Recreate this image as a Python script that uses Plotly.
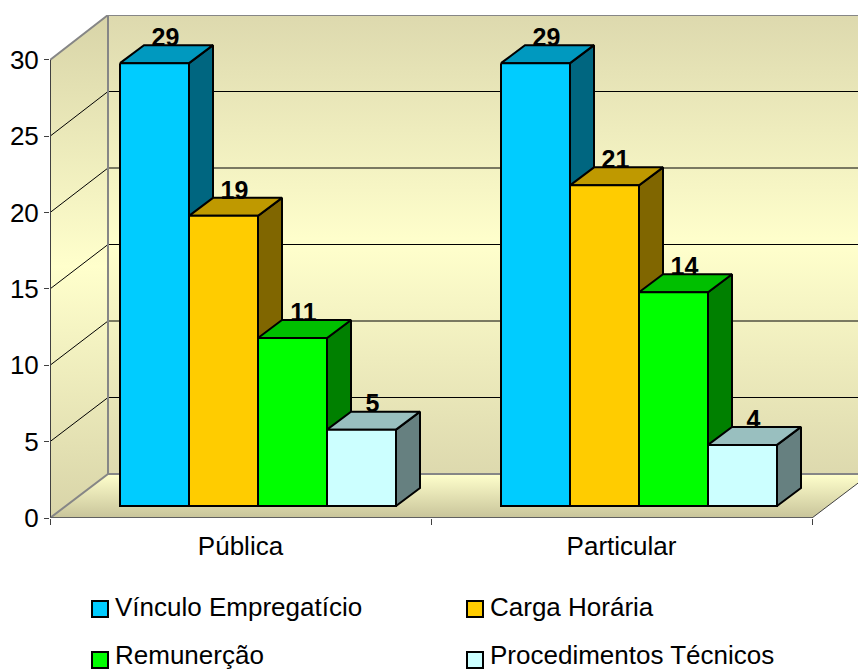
import plotly.graph_objects as go

categories = ["Pública", "Particular"]
series_names = ["Vínculo Empregatício", "Carga Horária", "Remunerção", "Procedimentos Técnicos"]
vinculo = [29, 29]
carga = [19, 21]
remuneracao = [11, 14]
procedimentos = [5, 4]
y_ticks = [0, 5, 10, 15, 20, 25, 30]

front_colors = ["#00CCFF", "#FFCC00", "#00FF00", "#CCFFFF"]
top_colors = ["#0099BF", "#BF9900", "#00BF00", "#99BFBF"]
side_colors = ["#006680", "#806600", "#008000", "#668080"]

W, H = 858, 671
L, T, B = 50, 15, 518
PX_PER_VAL = 15.27
PX_PER_CAT = 381.0
CAT0_PX = 240.5


def X(px):
    return (px - CAT0_PX) / PX_PER_CAT


def Y(py):
    return (B - py) / PX_PER_VAL


DEPTH_X, DEPTH_Y = 58, 44
BACK_X, BACK_B, BACK_T = L + DEPTH_X, B - DEPTH_Y, T
TOP_FRONT = B - 30 * PX_PER_VAL

fig = go.Figure()
NOHOVER = dict(hoverinfo="skip", showlegend=False)


def poly(xs, ys, **kw):
    fig.add_trace(go.Scatter(x=[X(v) for v in xs], y=[Y(v) for v in ys], mode="lines", **NOHOVER, **kw))


WALL = dict(type="vertical", colorscale=[[0, "#DDD9AE"], [0.5, "#FFFFCC"], [1, "#DDD9AE"]])
# side wall
poly([L, BACK_X, BACK_X, L, L], [TOP_FRONT, BACK_T, BACK_B, B, TOP_FRONT], fill="toself",
     fillgradient=dict(type="vertical", colorscale=[[0, "#D8D4A8"], [0.5, "#FFFFCC"], [1, "#D8D4A8"]]),
     line=dict(width=0))
# back wall
poly([BACK_X, W, W, BACK_X, BACK_X], [BACK_T, BACK_T, BACK_B, BACK_B, BACK_T], fill="toself",
     fillgradient=WALL, line=dict(width=0))
# floor
FLOOR_R = 812
poly([L, BACK_X, W, W, FLOOR_R, L], [B, BACK_B, BACK_B, B - (W - FLOOR_R) * DEPTH_Y / DEPTH_X, B, B], fill="toself",
     fillgradient=dict(type="vertical", colorscale=[[0, "#C8C49A"], [1, "#FFFFCC"]]),
     line=dict(width=0))

# gridlines
for v in y_ticks[1:-1]:
    yf = B - v * PX_PER_VAL
    yb = BACK_B - v * (BACK_B - BACK_T) / 30
    poly([L, BACK_X, W], [yf, yb, yb], line=dict(color="#000000", width=1))

# wall edges
GREY = dict(color="#868686", width=2)
poly([L, BACK_X, W], [TOP_FRONT, BACK_T, BACK_T], line=GREY)
poly([BACK_X, BACK_X], [BACK_T, BACK_B], line=GREY)
poly([L, BACK_X, W], [B, BACK_B, BACK_B], line=GREY)
poly([L, L], [TOP_FRONT, B], line=dict(color="#404040", width=2))
poly([L, FLOOR_R], [B, B], line=dict(color="#606060", width=2))
poly([FLOOR_R, W], [B, B - (W - FLOOR_R) * DEPTH_Y / DEPTH_X], line=dict(color="#404040", width=1))

# bars
BAR_W = 69.0
BAR_BASE_PX = 506
BAR_DX, BAR_DY = 24, 18
START_PX = [120, 501]
all_series = [vinculo, carga, remuneracao, procedimentos]

label_x, label_y, label_t = [], [], []
for si, vals in enumerate(all_series):
    fx, fy, tx, ty, sx, sy = [], [], [], [], [], []
    for ci, v in enumerate(vals):
        x0 = START_PX[ci] + si * BAR_W
        x1 = x0 + BAR_W
        yt = BAR_BASE_PX - v * PX_PER_VAL
        yb = BAR_BASE_PX
        fx += [x0, x1, x1, x0, x0, None]
        fy += [yt, yt, yb, yb, yt, None]
        tx += [x0, x0 + BAR_DX, x1 + BAR_DX, x1, x0, None]
        ty += [yt, yt - BAR_DY, yt - BAR_DY, yt, yt, None]
        sx += [x1, x1 + BAR_DX, x1 + BAR_DX, x1, x1, None]
        sy += [yt, yt - BAR_DY, yb - BAR_DY, yb, yt, None]
        label_x.append(X((x0 + x1) / 2 + 11))
        label_y.append(Y(yt - 23.5))
        label_t.append(str(v))
    conv = lambda arr, f: [None if a is None else f(a) for a in arr]
    edge = dict(color="#000000", width=2)
    for xs, ys, col in ((sx, sy, side_colors[si]), (tx, ty, top_colors[si]), (fx, fy, front_colors[si])):
        fig.add_trace(go.Scatter(x=conv(xs, X), y=conv(ys, Y), mode="lines", fill="toself", fillcolor=col,
                                 line=edge, **NOHOVER))

fig.add_trace(go.Scatter(x=label_x, y=label_y, text=label_t, mode="text", cliponaxis=False,
                         textfont=dict(family="Liberation Sans", size=25, color="#000000"),
                         texttemplate="<b>%{text}</b>", textposition="middle center", **NOHOVER))

# legend
legend_pos = [(80, 606), (455, 606), (80, 654), (455, 654)]
layout_legends = {}
for i, name in enumerate(series_names):
    key = "legend" if i == 0 else f"legend{i + 1}"
    fig.add_trace(go.Scatter(x=[None], y=[None], mode="markers", name=name, legend=key, showlegend=True,
                             hoverinfo="skip",
                             marker=dict(symbol="square", size=16, color=front_colors[i],
                                         line=dict(color="#000000", width=2))))
    px, py = legend_pos[i]
    layout_legends[key] = dict(x=(px - L) / (W - L), y=(B - py) / (B - T), xanchor="left", yanchor="middle",
                               bgcolor="rgba(0,0,0,0)", itemsizing="trace", itemwidth=30, indentation=-5,
                               font=dict(family="Liberation Sans", size=26, color="#000000"))

fig.update_layout(
    width=W, height=H, autosize=False,
    margin=dict(l=L, r=0, t=T, b=H - B, pad=0, autoexpand=False),
    paper_bgcolor="#FFFFFF", plot_bgcolor="#FFFFFF",
    font=dict(family="Liberation Sans", size=26, color="#000000"),
    xaxis=dict(range=[X(L), X(W)], tickmode="array", tickvals=[0, 1], ticktext=categories,
               showgrid=False, zeroline=False, showline=False, ticks="", ticklabelstandoff=10,
               minor=dict(tickmode="array", tickvals=[-0.5, 0.5, 1.5], ticks="outside", ticklen=6,
                          tickcolor="#404040", tickwidth=1, showgrid=False),
               tickfont=dict(family="Liberation Sans", size=26, color="#000000"), fixedrange=True),
    yaxis=dict(range=[0, Y(T)], tickmode="array", tickvals=y_ticks, showgrid=False, zeroline=False, showline=False,
               ticks="outside", ticklen=5, tickcolor="#404040", tickwidth=1, ticklabelstandoff=0,
               tickfont=dict(family="Liberation Sans", size=26, color="#000000"), fixedrange=True),
    **layout_legends,
)

nudge = ("document.body.style.margin='0';document.body.style.overflow='hidden';"
         "setTimeout(function(){var dy=[3,3,6,6];"
         "document.querySelectorAll('.legendsymbols').forEach(function(g,i){"
         "g.setAttribute('transform','translate(5,'+dy[i]+')');});},50);")
fig.write_html("out.html", config={"displayModeBar": False}, post_script=nudge)
